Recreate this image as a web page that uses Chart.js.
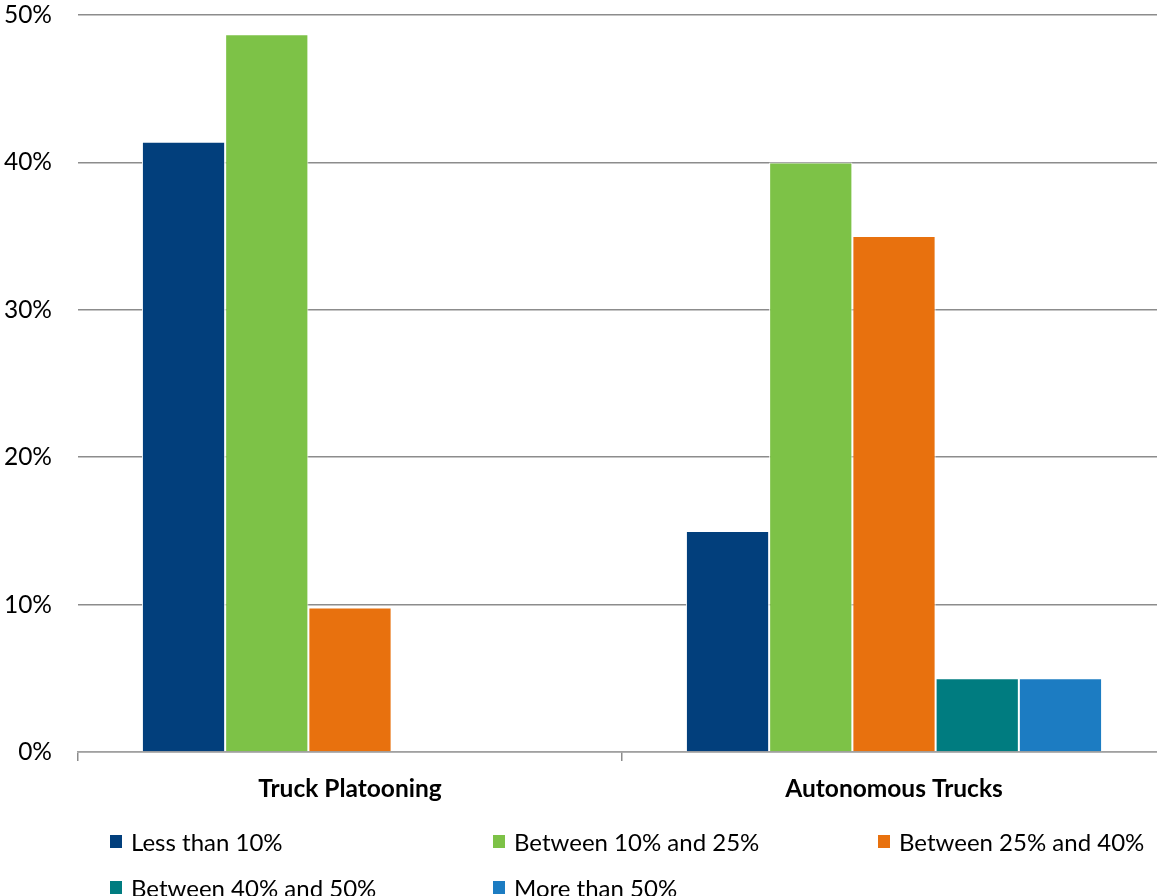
<!DOCTYPE html>
<html>
<head>
<meta charset="utf-8">
<script src="https://cdn.jsdelivr.net/npm/chart.js@4"></script>
<style>
  html, body { margin: 0; padding: 0; background: #fff; overflow: hidden; width: 1157px; height: 896px; }
  #wrap { position: absolute; left: 0; top: 0; width: 1166px; height: 896px; }
  #legend { position: absolute; left: 0; top: 0; width: 1157px; height: 896px; pointer-events: none;
            font-family: Lato, "Open Sans", sans-serif; font-size: 24px; color: #000; }
  .li { position: absolute; display: flex; align-items: center; white-space: nowrap; }
  .sw { width: 12px; height: 13px; margin-right: 9px; }
</style>
</head>
<body>
<div id="wrap"><canvas id="c"></canvas></div>
<div id="legend"></div>
<script>
const categories = ["Truck Platooning", "Autonomous Trucks"];
const seriesNames = ["Less than 10%", "Between 10% and 25%", "Between 25% and 40%", "Between 40% and 50%", "More than 50%"];
const lessThan10 = [41.4, 15];
const between10and25 = [48.7, 40];
const between25and40 = [9.8, 35];
const between40and50 = [0, 5];
const moreThan50 = [0, 5];
const colors = ["#023F7C", "#7DC247", "#E8710E", "#007C80", "#1C7CC2"];
const yTicks = [0, 10, 20, 30, 40, 50];

const seriesValues = [lessThan10, between10and25, between25and40, between40and50, moreThan50];

const FONT = "Lato, 'Open Sans', sans-serif";

new Chart(document.getElementById('c'), {
  type: 'bar',
  data: {
    labels: categories,
    datasets: seriesNames.map((n, i) => ({
      label: n,
      data: seriesValues[i],
      backgroundColor: colors[i],
      borderColor: '#ffffff',
      borderWidth: 1,
      categoryPercentage: 0.765,
      barPercentage: 1.0
    }))
  },
  options: {
    responsive: true,
    maintainAspectRatio: false,
    animation: false,
    layout: { padding: { top: 15, right: 0, left: 0, bottom: 94 } },
    plugins: { legend: { display: false }, tooltip: { enabled: false } },
    scales: {
      x: {
        offset: true,
        grid: { display: true, drawOnChartArea: false, drawTicks: true, tickLength: 9, offset: true, color: '#8c8c8c', lineWidth: 1.5 },
        border: { display: true, color: '#a0a0a0', width: 1.5 },
        ticks: { color: '#000', font: { family: FONT, size: 24.5, weight: 'bold' }, padding: 13 },
        afterFit: s => { s.height = 50; s.paddingLeft = 0; s.paddingRight = 0; }
      },
      y: {
        min: 0, max: 50,
        afterBuildTicks: s => { s.ticks = yTicks.map(v => ({ value: v })); },
        grid: { color: '#8c8c8c', lineWidth: 1.5, drawTicks: false },
        border: { display: false },
        ticks: { color: '#000', font: { family: FONT, size: 24.5 }, padding: 26, callback: v => v + '%' },
        afterFit: s => { s.width = 78; s.paddingTop = 0; s.paddingBottom = 0; }
      }
    }
  }
});

// HTML legend built from the series list
const legendPos = [[110, 841], [493, 841], [878, 841], [110, 887], [493, 887]];
const lg = document.getElementById('legend');
seriesNames.forEach((n, i) => {
  const d = document.createElement('div');
  d.className = 'li';
  d.style.left = legendPos[i][0] + 'px';
  d.style.top = (legendPos[i][1] - 15) + 'px';
  d.style.height = '30px';
  const sw = document.createElement('span');
  sw.className = 'sw';
  sw.style.background = colors[i];
  const t = document.createElement('span');
  t.textContent = n;
  d.appendChild(sw); d.appendChild(t);
  lg.appendChild(d);
});
</script>
</body>
</html>
